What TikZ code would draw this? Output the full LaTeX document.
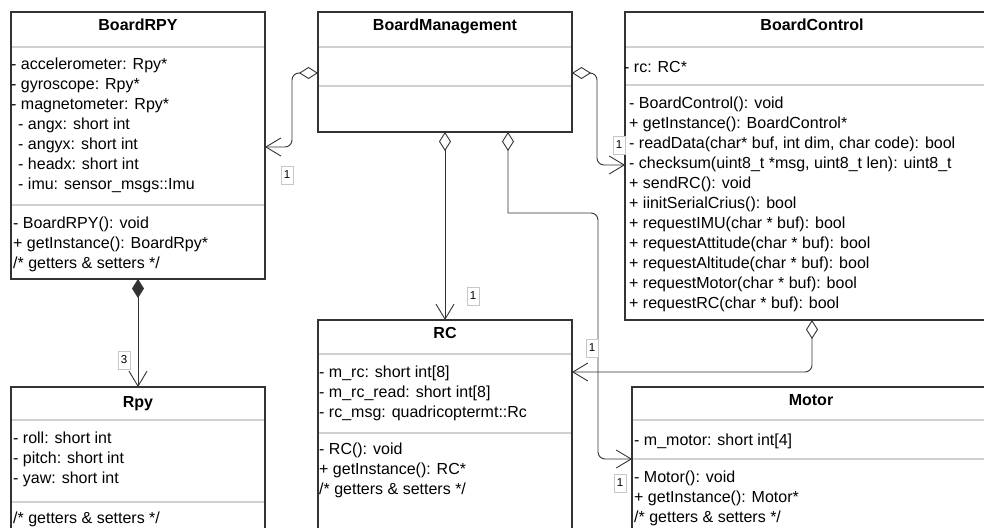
\documentclass[tikz,border=0pt]{standalone}
\usepackage{fontspec}
\setmainfont{Liberation Sans}
\usetikzlibrary{arrows.meta,calc}
\begin{document}
\begin{tikzpicture}[x=1pt,y=-1pt,
  umlbox/.style={draw=black!80,line width=1.1pt,fill=white,inner sep=0pt,outer sep=0pt},
  sepline/.style={draw=black!18,line width=1.8pt},
  ttl/.style={anchor=base,inner sep=0pt,font=\fontsize{16}{20}\selectfont\bfseries},
  txt/.style={anchor=base west,inner sep=0pt,font=\fontsize{16}{20}\selectfont},
  conn/.style={draw=black!80,line width=0.9pt,rounded corners=7pt},
  agg/.style={conn,{Diamond[open,length=19pt,width=12pt]}-{Straight Barb[length=15pt,width=18pt]}},
  compo/.style={conn,{Diamond[length=19pt,width=12pt]}-{Straight Barb[length=15pt,width=18pt]}},
  mult/.style={draw=black!22,fill=white,inner sep=0pt,minimum width=12pt,minimum height=18pt,font=\fontsize{11.5}{11.5}\selectfont}
]
\useasboundingbox (0,0) rectangle (984,527);
\clip (0,0) rectangle (984,527);

% ---------- BoardRPY ----------
\node[umlbox,minimum width=254pt,minimum height=267pt] (rpyb) at (138,145.5) {};
\draw[sepline] ($(rpyb.north west)+(1,35)$) -- ($(rpyb.north east)+(-1,35)$);
\draw[sepline] ($(rpyb.north west)+(1,193)$) -- ($(rpyb.north east)+(-1,193)$);
\node[ttl] (rpybT) at (138,31) {BoardRPY};
\node[txt] (rpybA1) at (11,69) {- accelerometer: Rpy*};
\node[txt] (rpybA2) at (11,89) {- gyroscope: Rpy*};
\node[txt] (rpybA3) at (11,109) {- magnetometer: Rpy*};
\node[txt] (rpybA4) at (18,129) {- angx: short int};
\node[txt] (rpybA5) at (18,149) {- angyx: short int};
\node[txt] (rpybA6) at (18,169) {- headx: short int};
\node[txt] (rpybA7) at (18,189) {- imu: sensor\_msgs::Imu};
\node[txt] (rpybM1) at (13,228) {- BoardRPY(): void};
\node[txt] (rpybM2) at (13,248) {+ getInstance(): BoardRpy*};
\node[txt] (rpybM3) at (13,268) {/* getters \& setters */};

% ---------- BoardManagement ----------
\node[umlbox,minimum width=254pt,minimum height=120pt] (bm) at (445,72) {};
\draw[sepline] ($(bm.north west)+(1,35)$) -- ($(bm.north east)+(-1,35)$);
\draw[sepline] ($(bm.north west)+(1,74)$) -- ($(bm.north east)+(-1,74)$);
\node[ttl] (bmT) at (445,31) {BoardManagement};

% ---------- BoardControl ----------
\node[umlbox,minimum width=374pt,minimum height=308pt] (bc) at (812,166) {};
\draw[sepline] ($(bc.north west)+(1,35)$) -- ($(bc.north east)+(-1,35)$);
\draw[sepline] ($(bc.north west)+(1,73)$) -- ($(bc.north east)+(-1,73)$);
\node[ttl] (bcT) at (812,31) {BoardControl};
\node[txt] (bcA1) at (624,72) {- rc: RC*};
\foreach \t [count=\i] in {{- BoardControl(): void},{+ getInstance(): BoardControl*},
  {- readData(char* buf, int dim, char code): bool},{- checksum(uint8\_t *msg, uint8\_t len): uint8\_t},
  {+ sendRC(): void},{+ iinitSerialCrius(): bool},{+ requestIMU(char * buf): bool},
  {+ requestAttitude(char * buf): bool},{+ requestAltitude(char * buf): bool},
  {+ requestMotor(char * buf): bool},{+ requestRC(char * buf): bool}}
  \node[txt] (bcM\i) at (629,88+20*\i) {\t};

% ---------- Rpy ----------
\node[umlbox,minimum width=254pt,minimum height=153pt] (rpy) at (138,463.5) {};
\draw[sepline] ($(rpy.north west)+(1,33)$) -- ($(rpy.north east)+(-1,33)$);
\draw[sepline] ($(rpy.north west)+(1,115)$) -- ($(rpy.north east)+(-1,115)$);
\node[ttl] (rpyT) at (138,407) {Rpy};
\node[txt] (rpyA1) at (13,443) {- roll: short int};
\node[txt] (rpyA2) at (13,463) {- pitch: short int};
\node[txt] (rpyA3) at (13,483) {- yaw: short int};
\node[txt] (rpyM1) at (13,523) {/* getters \& setters */};

% ---------- RC ----------
\node[umlbox,minimum width=254pt,minimum height=220pt] (rc) at (445,430) {};
\draw[sepline] ($(rc.north west)+(1,34)$) -- ($(rc.north east)+(-1,34)$);
\draw[sepline] ($(rc.north west)+(1,113)$) -- ($(rc.north east)+(-1,113)$);
\node[ttl] (rcT) at (445,338) {RC};
\node[txt] (rcA1) at (319,377) {- m\_rc: short int[8]};
\node[txt] (rcA2) at (319,397) {- m\_rc\_read: short int[8]};
\node[txt] (rcA3) at (319,417) {- rc\_msg: quadricoptermt::Rc};
\node[txt] (rcM1) at (319,454) {- RC(): void};
\node[txt] (rcM2) at (319,474) {+ getInstance(): RC*};
\node[txt] (rcM3) at (319,494) {/* getters \& setters */};

% ---------- Motor ----------
\node[umlbox,minimum width=358pt,minimum height=153pt] (mot) at (811,463.5) {};
\draw[sepline] ($(mot.north west)+(1,33)$) -- ($(mot.north east)+(-1,33)$);
\draw[sepline] ($(mot.north west)+(1,72)$) -- ($(mot.north east)+(-1,72)$);
\node[ttl] (motT) at (811,405) {Motor};
\node[txt] (motA1) at (634,445) {- m\_motor: short int[4]};
\node[txt] (motM1) at (634,482) {- Motor(): void};
\node[txt] (motM2) at (634,502) {+ getInstance(): Motor*};
\node[txt] (motM3) at (634,522) {/* getters \& setters */};

% ---------- connectors ----------
\draw[agg] ($(bm.north west)+(0,61)$) -- ++(-26,0) -- ++(0,74) -- ($(rpyb.north east)+(0,135)$);
\draw[agg] ($(bm.north east)+(0,61)$) -- ++(25,0) -- ++(0,92) -- ($(bc.north west)+(0,153)$);
\draw[agg] (bm.south) -- (rc.north);
\draw[agg,sharp corners] ($(bm.south west)+(190,0)$) -- ++(0,81) [rounded corners=7pt] -- ++(90,0) -- ++(0,246) -- ($(mot.north west)+(0,72)$);
\draw[agg] (bc.south) -- ++(0,52) -- ($(rc.north east)+(0,52)$);
\draw[compo] (rpyb.south) -- (rpy.north);

% ---------- multiplicities ----------
\node[mult] (m1) at (287,175) {1};
\node[mult] (m2) at (619,145) {1};
\node[mult] (m3) at (473,296) {1};
\node[mult] (m4) at (592,348) {1};
\node[mult] (m5) at (620,483) {1};
\node[mult] (m6) at (124,360) {3};
\end{tikzpicture}
\end{document}
